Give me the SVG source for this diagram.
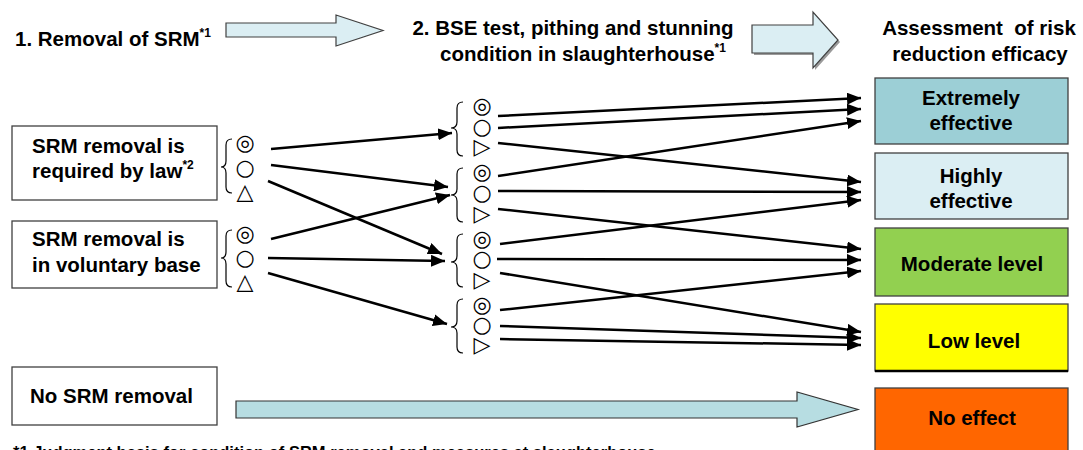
<svg xmlns="http://www.w3.org/2000/svg" width="1083" height="450" viewBox="0 0 1083 450">
<defs>
<marker id="ah" markerUnits="userSpaceOnUse" markerWidth="14" markerHeight="12" refX="14" refY="6" orient="auto">
<path d="M0,0 L14,6 L0,12 z" fill="#000"/>
</marker>
</defs>
<style>
.t{font-family:"Liberation Sans",Arial,sans-serif;font-weight:bold;fill:#000}
.h{font-size:20.5px}
.b{font-size:20.5px}
.sup{font-size:12px}
.box{fill:#fff;stroke:#404040;stroke-width:1.3}
.lvl{stroke:#404040;stroke-width:1.3}
.sym{font-family:"DejaVu Sans",sans-serif;font-weight:bold;font-size:22px;text-anchor:middle;dominant-baseline:central;fill:#000}
.br{fill:none;stroke:#000;stroke-width:1.2}
.c{fill:none;stroke:#000;stroke-width:2.5;marker-end:url(#ah)}
.big{fill:#dbeef3;stroke:#404040;stroke-width:1.2}
</style>

<g id="title1">
<text class="t h" x="15" y="46">1. Removal of SRM<tspan class="sup" dy="-9">*1</tspan></text>
</g>
<g id="title2">
<text class="t h" x="573" y="35" text-anchor="middle">2. BSE test, pithing and stunning</text>
<text class="t h" x="583" y="61" text-anchor="middle">condition in slaughterhouse<tspan class="sup" dy="-9">*1</tspan></text>
</g>
<g id="title3">
<text class="t h" x="979" y="35" text-anchor="middle" xml:space="preserve">Assessment  of risk</text>
<text class="t h" x="980" y="61" text-anchor="middle">reduction efficacy</text>
</g>

<g id="bigarrows">
<path class="big" d="M226,23 L336,23 L336,15 L383,30.5 L336,46 L336,37 L226,37 z"/>
<path d="M754,27 L815,27 L815,14 L840,42 L815,70 L815,55 L754,55 z" fill="#9a9a9a"/>
<path class="big" d="M752,25 L813,25 L813,12 L838,40 L813,68 L813,53 L752,53 z" stroke="#8a8a8a"/>
<path d="M236,401 L797,401 L797,392 L858,409.5 L797,427 L797,418 L236,418 z" fill="#b7dde2" stroke="#333" stroke-width="1.2"/>
</g>

<g id="box-law">
<rect class="box" x="12" y="126" width="205" height="74"/>
<text class="t b" x="32" y="153">SRM removal is</text>
<text class="t b" x="32" y="178">required by law<tspan class="sup" dy="-9">*2</tspan></text>
</g>
<g id="box-voluntary">
<rect class="box" x="12" y="221" width="205" height="67"/>
<text class="t b" x="32" y="246">SRM removal is</text>
<text class="t b" x="32" y="272">in voluntary base</text>
</g>
<g id="box-none">
<rect class="box" x="12" y="367" width="205" height="58"/>
<text class="t b" x="30" y="403">No SRM removal</text>
</g>

<g id="sym-left-1">
<path class="br" d="M232,139 Q226,139 226,145 L226,161 Q226,167 221,167 Q226,167 226,173 L226,187 Q226,193 232,193"/>
<text class="sym" x="245" y="142">◎</text>
<text class="sym" x="245" y="167">○</text>
<text class="sym" x="245" y="191">△</text>
</g>
<g id="sym-left-2">
<path class="br" d="M232,230 Q226,230 226,236 L226,252 Q226,258 221,258 Q226,258 226,264 L226,281 Q226,287 232,287"/>
<text class="sym" x="245" y="233">◎</text>
<text class="sym" x="245" y="257">○</text>
<text class="sym" x="245" y="281">△</text>
</g>

<g id="sym-mid-1">
<path class="br" d="M463,102 Q457,102 457,108 L457,122 Q457,128 451,128 Q457,128 457,134 L457,150 Q457,156 463,156"/>
<text class="sym" x="482" y="105">◎</text>
<text class="sym" x="482" y="126">○</text>
<text class="sym" x="482" y="146">▷</text>
</g>
<g id="sym-mid-2">
<path class="br" d="M463,168 Q457,168 457,174 L457,189 Q457,195 451,195 Q457,195 457,201 L457,216 Q457,222 463,222"/>
<text class="sym" x="482" y="171">◎</text>
<text class="sym" x="482" y="192">○</text>
<text class="sym" x="482" y="213">▷</text>
</g>
<g id="sym-mid-3">
<path class="br" d="M463,234 Q457,234 457,240 L457,256 Q457,262 451,262 Q457,262 457,268 L457,281 Q457,287 463,287"/>
<text class="sym" x="482" y="238">◎</text>
<text class="sym" x="482" y="258">○</text>
<text class="sym" x="482" y="279">▷</text>
</g>
<g id="sym-mid-4">
<path class="br" d="M463,299 Q457,299 457,305 L457,321 Q457,327 451,327 Q457,327 457,333 L457,347 Q457,353 463,353"/>
<text class="sym" x="482" y="304">◎</text>
<text class="sym" x="482" y="324">○</text>
<text class="sym" x="482" y="344">▷</text>
</g>

<g id="lvl-extreme">
<rect class="lvl" x="875" y="78" width="193" height="66" fill="#9ccfd6"/>
<text class="t b" x="971" y="105" text-anchor="middle">Extremely</text>
<text class="t b" x="971" y="130" text-anchor="middle">effective</text>
</g>
<g id="lvl-high">
<rect class="lvl" x="875" y="153" width="193" height="66" fill="#dbeef3"/>
<text class="t b" x="971" y="183" text-anchor="middle">Highly</text>
<text class="t b" x="971" y="208" text-anchor="middle">effective</text>
</g>
<g id="lvl-moderate">
<rect class="lvl" x="875" y="228" width="193" height="68" fill="#92d050"/>
<text class="t b" x="972" y="271" text-anchor="middle">Moderate level</text>
</g>
<g id="lvl-low">
<rect class="lvl" x="875" y="304" width="193" height="67" fill="#ffff00"/>
<line x1="875" y1="371" x2="1068" y2="371" stroke="#000" stroke-width="2.5"/>
<text class="t b" x="974" y="348" text-anchor="middle">Low level</text>
</g>
<g id="lvl-none">
<rect class="lvl" x="875" y="388" width="193" height="70" fill="#ff6600"/>
<text class="t b" x="972" y="425" text-anchor="middle">No effect</text>
</g>

<g id="connectors">
<line class="c" x1="271" y1="149" x2="452" y2="133"/>
<line class="c" x1="271" y1="165" x2="448" y2="187"/>
<line class="c" x1="268" y1="181" x2="442" y2="254"/>
<line class="c" x1="271" y1="239" x2="450" y2="195"/>
<line class="c" x1="268" y1="258" x2="445" y2="261"/>
<line class="c" x1="268" y1="273" x2="447" y2="324"/>

<line class="c" x1="498" y1="116" x2="861" y2="98"/>
<line class="c" x1="498" y1="128" x2="861" y2="109"/>
<line class="c" x1="498" y1="176" x2="861" y2="121"/>
<line class="c" x1="498" y1="143" x2="861" y2="182"/>
<line class="c" x1="498" y1="191" x2="861" y2="192"/>
<line class="c" x1="500" y1="244" x2="861" y2="200"/>
<line class="c" x1="498" y1="209" x2="861" y2="249"/>
<line class="c" x1="497" y1="259" x2="861" y2="260"/>
<line class="c" x1="500" y1="310" x2="861" y2="271"/>
<line class="c" x1="500" y1="273" x2="861" y2="332"/>
<line class="c" x1="500" y1="326" x2="861" y2="338"/>
<line class="c" x1="500" y1="339" x2="861" y2="345"/>
</g>

<g id="footnote">
<text class="t" font-size="16.5" x="13" y="458">*1 Judgment basis for condition of SRM removal and measures at slaughterhouse</text>
</g>
</svg>
